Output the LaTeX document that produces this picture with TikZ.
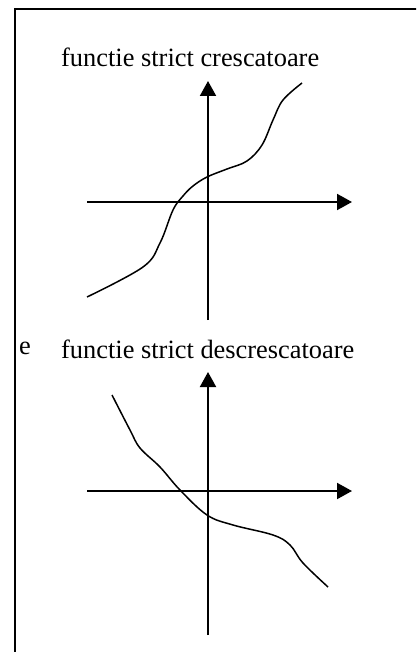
\documentclass[tikz,border=0pt]{standalone}
\usepackage{fontspec}
\setmainfont{Liberation Serif}
\usetikzlibrary{arrows.meta}
\begin{document}
\begin{tikzpicture}[x=1pt,y=-1pt,
  axis/.style={line width=2pt,-{Triangle[length=15pt,width=16pt]}},
  curve/.style={line width=1.5pt,line join=round},
  lbl/.style={anchor=base west,inner sep=0pt,font=\fontsize{26.4}{30}\selectfont}]
\useasboundingbox (0,0) rectangle (416,652);
\begin{scope}
\clip (0,0) rectangle (416,652);
\draw[line width=2pt] (15,700) -- (15,9) -- (430,9);
\end{scope}
\node[lbl] (t1) at (61,67) {functie strict crescatoare};
\node[lbl] (t2) at (61,358) {functie strict descrescatoare};
\node[lbl] (e) at (19,354) {e};
% graph 1
\coordinate (y1b) at (208,320);
\coordinate (y1t) at (208,81);
\coordinate (x1l) at (87,202);
\coordinate (x1r) at (352,202);
\draw[axis] (y1b) -- (y1t);
\draw[axis] (x1l) -- (x1r);
\draw[curve] plot[smooth,tension=0.6] coordinates {(87,297) (143,267) (160,243) (173,210) (183,196) (193,186) (207,177) (227,169) (247,161) (262,145) (273,120) (283,100) (302,83)};
% graph 2
\coordinate (y2b) at (208,635);
\coordinate (y2t) at (208,372);
\coordinate (x2l) at (87,491);
\coordinate (x2r) at (352,491);
\draw[axis] (y2b) -- (y2t);
\draw[axis] (x2l) -- (x2r);
\draw[curve] plot[smooth,tension=0.6] coordinates {(112,395) (130,430) (140,448) (160,467) (180,490) (207,515) (233,525) (273,535) (290,545) (303,563) (328,587)};
\end{tikzpicture}
\end{document}
